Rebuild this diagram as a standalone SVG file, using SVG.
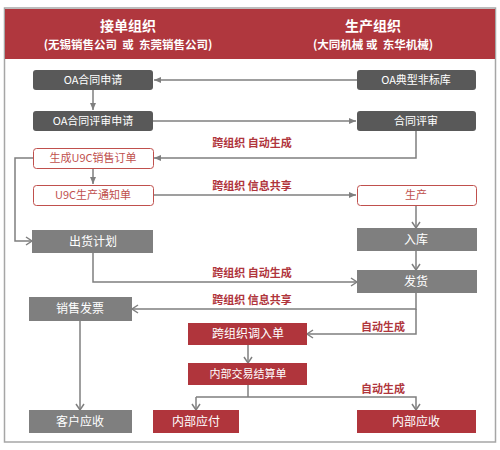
<svg xmlns="http://www.w3.org/2000/svg" width="500" height="450" viewBox="0 0 500 450">
<defs>
<style>
text{font-family:"Noto Sans CJK SC","Noto Sans",sans-serif;text-anchor:middle}
.hd{fill:#fff;font-weight:bold;font-size:14px}
.hs{fill:#fff;font-weight:bold;font-size:11.5px;white-space:pre}
.nt{fill:#fff;font-size:11px}
.nt12{fill:#fff;font-size:12px}
.rt{fill:#c0504d;font-size:11px}
.lb{fill:#b0353c;font-weight:bold;font-size:11px}
.dk{fill:#595959}
.gr{fill:#7f7f7f}
.rd{fill:#b0353c}
.ro{fill:#fff;stroke:#c0504d;stroke-width:1}
.ln{fill:none;stroke:#7f7f7f;stroke-width:1.5}
.fa{marker-end:url(#fa)}
.oa{marker-end:url(#oa)}
</style>
<marker id="fa" markerWidth="8" markerHeight="8" refX="7" refY="4" orient="auto" markerUnits="userSpaceOnUse">
<path d="M0,1 L7,4 L0,7 Z" fill="#7f7f7f"/>
</marker>
<marker id="oa" markerWidth="10" markerHeight="10" refX="8" refY="5" orient="auto" markerUnits="userSpaceOnUse">
<path d="M2,1 L8,5 L2,9" fill="none" stroke="#7f7f7f" stroke-width="1.5"/>
</marker>
</defs>
<rect x="4.5" y="8" width="491" height="434" fill="#fff" stroke="#a6a6a6" stroke-width="1.5"/>
<g id="header">
<rect x="5" y="9" width="490" height="50" fill="#b0373e"/>
<text class="hd" x="128" y="31">接单组织</text>
<text class="hs" x="128" y="49">(无锡销售公司  或  东莞销售公司)</text>
<text class="hd" x="373" y="31">生产组织</text>
<text class="hs" x="373" y="49">(大同机械 或  东华机械)</text>
</g>
<g id="connectors">
<path class="ln fa" d="M357,80 H154"/>
<path class="ln fa" d="M93,90 V110"/>
<path class="ln fa" d="M153,121 H356"/>
<path class="ln fa" d="M416,131 V158 H154"/>
<path class="ln fa" d="M93,168 V184"/>
<path class="ln fa" d="M153,195 H356"/>
<path class="ln oa" d="M33,158 H15 V241 H32"/>
<path class="ln oa" d="M416,206 V228"/>
<path class="ln oa" d="M416,251 V270"/>
<path class="ln oa" d="M93,253 V282 H357"/>
<path class="ln oa" d="M416,293 V309 H132"/>
<path class="ln oa" d="M416,309 V334 H307"/>
<path class="ln oa" d="M248,345 V363"/>
<path class="ln" d="M248,385 V397"/>
<path class="ln oa" d="M196,397 H416 V410"/>
<path class="ln oa" d="M196,397 V410"/>
<path class="ln oa" d="M80,321 V410"/>
<text class="lb" x="252" y="147">跨组织 自动生成</text>
<text class="lb" x="252" y="190">跨组织 信息共享</text>
<text class="lb" x="252" y="277">跨组织 自动生成</text>
<text class="lb" x="252" y="304">跨组织 信息共享</text>
<text class="lb" x="383" y="331">自动生成</text>
<text class="lb" x="383" y="393">自动生成</text>
</g>
<g id="n-oa-apply"><rect class="dk" x="33" y="70" width="120" height="20" rx="3"/><text class="nt" x="93" y="84">OA合同申请</text></g>
<g id="n-oa-lib"><rect class="dk" x="357" y="70" width="119" height="20" rx="3"/><text class="nt" x="416" y="84">OA典型非标库</text></g>
<g id="n-oa-review-apply"><rect class="dk" x="33" y="111" width="120" height="20" rx="3"/><text class="nt" x="93" y="125">OA合同评审申请</text></g>
<g id="n-review"><rect class="dk" x="357" y="111" width="119" height="20" rx="3"/><text class="nt" x="416" y="125">合同评审</text></g>
<g id="n-so"><rect class="ro" x="33.5" y="148.5" width="120" height="20" rx="3"/><text class="rt" x="93" y="162">生成U9C销售订单</text></g>
<g id="n-notice"><rect class="ro" x="33.5" y="185.5" width="120" height="20" rx="3"/><text class="rt" x="93" y="199">U9C生产通知单</text></g>
<g id="n-prod"><rect class="ro" x="357.5" y="185.5" width="119" height="20" rx="3"/><text class="rt" x="416" y="199">生产</text></g>
<g id="n-ship-plan"><rect class="gr" x="32" y="230" width="121" height="23"/><text class="nt12" x="93" y="246">出货计划</text></g>
<g id="n-stock"><rect class="gr" x="357" y="228" width="120" height="23"/><text class="nt12" x="416" y="244">入库</text></g>
<g id="n-ship"><rect class="gr" x="357" y="270" width="120" height="23"/><text class="nt12" x="416" y="286">发货</text></g>
<g id="n-invoice"><rect class="gr" x="29" y="297" width="103" height="24"/><text class="nt12" x="80" y="313">销售发票</text></g>
<g id="n-transfer"><rect class="rd" x="188" y="323" width="119" height="22"/><text class="nt12" x="248" y="338">跨组织调入单</text></g>
<g id="n-settle"><rect class="rd" x="188" y="363" width="119" height="22"/><text class="nt" x="248" y="378">内部交易结算单</text></g>
<g id="n-ar-cust"><rect class="gr" x="29" y="410" width="103" height="23"/><text class="nt12" x="80" y="426">客户应收</text></g>
<g id="n-ap-int"><rect class="rd" x="153" y="410" width="86" height="23"/><text class="nt12" x="196" y="426">内部应付</text></g>
<g id="n-ar-int"><rect class="rd" x="357" y="410" width="119" height="23"/><text class="nt12" x="416" y="426">内部应收</text></g>
</svg>
